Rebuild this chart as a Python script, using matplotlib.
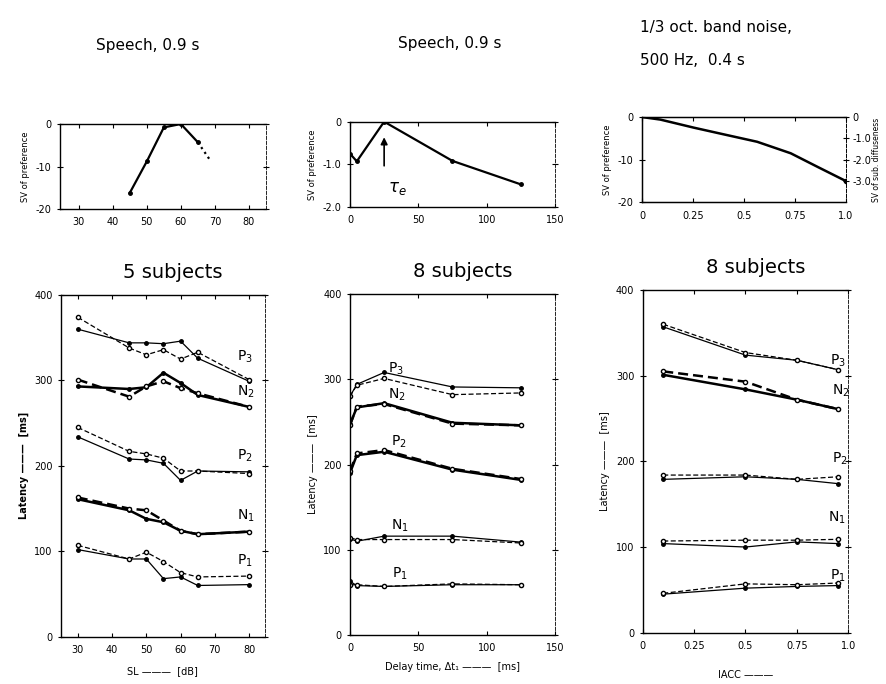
import numpy as np
import matplotlib
matplotlib.use('Agg')
import matplotlib.pyplot as plt

plt.rcParams['font.family'] = ['DejaVu Sans']

# ---- top row: scale values of preference
sv_sl = [45, 50, 55, 60, 65, 68.5]
sv_sl_val = [-16.2, -8.8, -0.8, 0.0, -4.3, -8.4]

sv_dt = [0, 5, 25, 75, 125]
sv_dt_val = [-0.75, -0.93, 0.0, -0.92, -1.47]

sv_iacc = [0, 0.09, 0.255, 0.4, 0.565, 0.73, 0.86, 1.0]
sv_iacc_diff = [0.0, -0.12, -0.5, -0.81, -1.16, -1.7, -2.33, -3.0]

# ---- bottom row: latencies [ms], solid = dots, dashed = open circles
sl = [30, 45, 50, 55, 60, 65, 80]
sl_p3_s = [360, 344, 344, 343, 346, 326, 299]
sl_p3_d = [374, 338, 330, 336, 325, 333, 301]
sl_n2_s = [293, 290, 292, 309, 297, 283, 269]
sl_n2_d = [301, 281, 293, 299, 291, 285, 269]
sl_p2_s = [234, 208, 207, 203, 183, 194, 193]
sl_p2_d = [245, 217, 214, 209, 194, 194, 191]
sl_n1_s = [161, 148, 138, 134, 124, 120, 123]
sl_n1_d = [163, 150, 148, 136, 124, 120, 123]
sl_p1_s = [102, 91, 91, 68, 70, 60, 61]
sl_p1_d = [107, 91, 99, 88, 75, 70, 71]

dt = [0, 5, 25, 75, 125]
dt_p3_s = [280, 294, 308, 291, 290]
dt_p3_d = [280, 293, 301, 282, 284]
dt_n2_s = [247, 267, 272, 249, 246]
dt_n2_d = [246, 268, 271, 248, 246]
dt_p2_s = [190, 211, 215, 194, 182]
dt_p2_d = [192, 213, 217, 195, 183]
dt_n1_s = [113, 110, 116, 116, 109]
dt_n1_d = [114, 112, 112, 112, 108]
dt_p1_s = [63, 58, 57, 59, 59]
dt_p1_d = [59, 59, 57, 60, 59]

iacc = [0.1, 0.5, 0.75, 0.95]
ia_p3_s = [357, 324, 318, 307]
ia_p3_d = [360, 327, 318, 307]
ia_n2_s = [301, 284, 272, 261]
ia_n2_d = [305, 293, 272, 261]
ia_p2_s = [179, 182, 179, 174]
ia_p2_d = [184, 184, 179, 182]
ia_n1_s = [104, 100, 106, 104]
ia_n1_d = [107, 108, 108, 109]
ia_p1_s = [45, 52, 54, 55]
ia_p1_d = [46, 57, 56, 58]

fig = plt.figure(figsize=(8.86, 6.84), dpi=100)


def style(ax):
    ax.tick_params(axis='x', direction='in', top=True, labelsize=7, pad=6, length=3)
    ax.tick_params(axis='y', direction='inout', right=True, labelsize=7, length=5)
    for s in ax.spines.values():
        s.set_linewidth(1.0)
    ax.spines['right'].set_linestyle((0, (4, 2)))
    ax.spines['right'].set_linewidth(0.6)


def pair(ax, x, ys, yd, thick=False):
    lw = 1.8 if thick else 0.9
    ax.plot(x, ys, '-', color='k', lw=lw, marker='o', ms=2.5, mfc='k')
    ax.plot(x, yd, '--', color='k', lw=lw, marker='o', ms=3, mfc='white',
            dashes=(4, 2))


# panel A
axA = fig.add_axes([0.0677, 0.6944, 0.2325, 0.1243])
axA.plot(sv_sl[:-1], sv_sl_val[:-1], '-', color='k', lw=1.6, marker='o', ms=2.5)
axA.plot(sv_sl[-2:], sv_sl_val[-2:], ':', color='k', lw=1.6)
axA.set_xlim(24.5, 85)
axA.set_ylim(-20, 0)
axA.set_xticks([30, 40, 50, 60, 70, 80])
axA.set_yticks([0, -10, -20])
axA.set_yticklabels(['0', '-10', '-20'])
axA.set_ylabel('SV of preference', fontsize=6)
style(axA)

# panel B
axB = fig.add_axes([0.395, 0.6974, 0.2314, 0.1247])
axB.plot(sv_dt, sv_dt_val, '-', color='k', lw=1.6, marker='o', ms=2.5)
axB.annotate('', xy=(25, -0.3), xytext=(25, -1.1),
             arrowprops=dict(arrowstyle='-|>', color='k', lw=1.2))
axB.text(28, -1.55, r'$\tau_e$', fontsize=12, va='center')
axB.set_xlim(0, 150)
axB.set_ylim(-2.0, 0)
axB.set_xticks([0, 50, 100, 150])
axB.set_yticks([0, -1.0, -2.0])
axB.set_yticklabels(['0', '-1.0', '-2.0'])
axB.set_ylabel('SV of preference', fontsize=6)
style(axB)

# panel C
axC = fig.add_axes([0.7246, 0.7042, 0.2300, 0.1247])
axC.set_xlim(0, 1.0)
axC.set_ylim(-20, 0)
axC.set_xticks([0, 0.25, 0.5, 0.75, 1.0])
axC.set_xticklabels(['0', '0.25', '0.5', '0.75', '1.0'])
axC.set_yticks([0, -10, -20])
axC.set_yticklabels(['0', '-10', '-20'])
axC.set_ylabel('SV of preference', fontsize=6)
style(axC)
axC.tick_params(axis='y', right=False)
axC2 = axC.twinx()
axC2.plot(sv_iacc, sv_iacc_diff, '-', color='k', lw=1.8)
axC2.plot(sv_iacc[-1], sv_iacc_diff[-1], 'o', color='k', ms=3)
axC2.set_ylim(-4.0, 0)
axC2.set_yticks([0, -1.0, -2.0, -3.0])
axC2.set_yticklabels(['0', '-1.0', '-2.0', '-3.0'])
axC2.tick_params(axis='y', direction='inout', labelsize=7, length=5, pad=2)
axC2.set_ylabel('SV of sub. diffuseness', fontsize=5.5, labelpad=1)
axC2.spines['right'].set_linestyle((0, (4, 2)))
axC2.spines['right'].set_linewidth(0.6)

# panel D
axD = fig.add_axes([0.0688, 0.0691, 0.2302, 0.4996])
pair(axD, sl, sl_p3_s, sl_p3_d)
pair(axD, sl, sl_n2_s, sl_n2_d, thick=True)
pair(axD, sl, sl_p2_s, sl_p2_d)
pair(axD, sl, sl_n1_s, sl_n1_d, thick=True)
pair(axD, sl, sl_p1_s, sl_p1_d)
axD.set_xlim(25.1, 84.6)
axD.set_ylim(0, 400)
axD.set_xticks([30, 40, 50, 60, 70, 80])
axD.set_yticks([0, 100, 200, 300, 400])
axD.set_xlabel('SL \u2014\u2014\u2014  [dB]', fontsize=7, labelpad=8)
axD.set_ylabel('Latency \u2014\u2014\u2014  [ms]', fontsize=7, fontweight='bold')
for lab, xx, yy in [('P$_3$', 76.5, 323), ('N$_2$', 76.5, 282), ('P$_2$', 76.5, 207),
                    ('N$_1$', 76.5, 137), ('P$_1$', 76.5, 84)]:
    axD.text(xx, yy, lab, fontsize=10)
axD.set_title('5 subjects', fontsize=14, pad=12, x=0.55)
style(axD)

# panel E
axE = fig.add_axes([0.395, 0.0716, 0.2314, 0.4985])
pair(axE, dt, dt_p3_s, dt_p3_d)
pair(axE, dt, dt_n2_s, dt_n2_d, thick=True)
pair(axE, dt, dt_p2_s, dt_p2_d, thick=True)
pair(axE, dt, dt_n1_s, dt_n1_d)
pair(axE, dt, dt_p1_s, dt_p1_d)
axE.set_xlim(0, 150)
axE.set_ylim(0, 400)
axE.set_xticks([0, 50, 100, 150])
axE.set_yticks([0, 100, 200, 300, 400])
axE.set_xlabel('Delay time, \u0394t\u2081 \u2014\u2014\u2014  [ms]', fontsize=7, labelpad=6)
axE.set_ylabel('Latency \u2014\u2014\u2014  [ms]', fontsize=7)
for lab, xx, yy in [('P$_3$', 28, 308), ('N$_2$', 28, 277), ('P$_2$', 30, 222),
                    ('N$_1$', 30, 124), ('P$_1$', 31, 67)]:
    axE.text(xx, yy, lab, fontsize=10)
axE.set_title('8 subjects', fontsize=14, pad=12, x=0.55)
style(axE)

# panel F
axF = fig.add_axes([0.7254, 0.075, 0.232, 0.501])
pair(axF, iacc, ia_p3_s, ia_p3_d)
pair(axF, iacc, ia_n2_s, ia_n2_d, thick=True)
pair(axF, iacc, ia_p2_s, ia_p2_d)
pair(axF, iacc, ia_n1_s, ia_n1_d)
pair(axF, iacc, ia_p1_s, ia_p1_d)
axF.set_xlim(0, 1.0)
axF.set_ylim(0, 400)
axF.set_xticks([0, 0.25, 0.5, 0.75, 1.0])
axF.set_xticklabels(['0', '0.25', '0.5', '0.75', '1.0'])
axF.set_yticks([0, 100, 200, 300, 400])
axF.set_xlabel('IACC \u2014\u2014\u2014', fontsize=7, labelpad=14)
axF.set_ylabel('Latency \u2014\u2014\u2014  [ms]', fontsize=7)
for lab, xx, yy in [('P$_3$', 0.91, 313), ('N$_2$', 0.92, 278), ('P$_2$', 0.92, 199),
                    ('N$_1$', 0.9, 130), ('P$_1$', 0.91, 62)]:
    axF.text(xx, yy, lab, fontsize=10)
axF.set_title('8 subjects', fontsize=14, pad=12, x=0.55)
style(axF)

# titles of the top row
fig.text(0.167, 0.934, 'Speech, 0.9 s', fontsize=11, ha='center', va='center')
fig.text(0.508, 0.937, 'Speech, 0.9 s', fontsize=11, ha='center', va='center')
fig.text(0.722, 0.960, '1/3 oct. band noise,', fontsize=11, ha='left', va='center')
fig.text(0.722, 0.912, '500 Hz,  0.4 s', fontsize=11, ha='left', va='center')

fig.savefig('out.png', dpi=100)
